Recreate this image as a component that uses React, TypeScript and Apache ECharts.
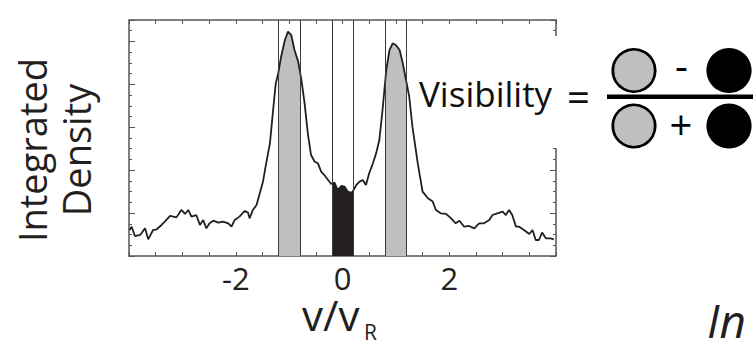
import React, { useEffect, useRef } from "react";
import * as echarts from "echarts";

// ---- data ----
const curveX = [-3.99,-3.95,-3.89,-3.79,-3.70,-3.64,-3.55,-3.48,-3.39,-3.33,-3.23,-3.11,-3.02,-2.95,-2.89,-2.83,-2.74,-2.67,-2.61,-2.55,-2.49,-2.42,-2.33,-2.24,-2.14,-2.08,-2.02,-1.93,-1.83,-1.77,-1.74,-1.68,-1.61,-1.55,-1.49,-1.43,-1.36,-1.30,-1.25,-1.21,-1.15,-1.08,-1.02,-0.96,-0.90,-0.83,-0.77,-0.71,-0.65,-0.59,-0.52,-0.46,-0.40,-0.34,-0.27,-0.21,-0.15,-0.09,-0.02,0.04,0.10,0.16,0.19,0.26,0.32,0.38,0.44,0.50,0.57,0.63,0.69,0.75,0.82,0.88,0.94,1.00,1.07,1.13,1.19,1.25,1.31,1.41,1.50,1.60,1.69,1.75,1.84,1.94,2.00,2.06,2.12,2.19,2.28,2.37,2.47,2.56,2.65,2.75,2.81,2.90,3.00,3.06,3.12,3.18,3.25,3.31,3.40,3.50,3.56,3.62,3.68,3.74,3.81,3.90,3.96];
const curveY = [2.42,2.73,1.86,1.96,2.58,1.55,2.42,2.49,2.89,3.20,3.73,3.60,4.29,3.92,4.29,3.67,3.82,2.89,3.36,2.58,3.05,3.29,3.11,3.20,3.05,2.73,3.36,3.67,4.20,4.04,3.51,4.29,4.75,5.84,6.93,8.64,10.50,13.61,16.10,16.87,18.58,20.14,20.91,20.60,19.20,18.12,16.41,14.23,11.44,9.42,8.79,8.64,7.86,7.55,7.08,6.71,6.84,6.15,6.53,6.46,6.00,5.90,6.00,6.62,6.93,7.08,6.62,7.71,8.64,9.57,10.81,13.61,17.34,19.20,19.83,19.67,19.20,17.96,16.41,14.85,12.06,8.64,6.00,5.38,5.07,4.29,3.98,3.92,3.67,3.36,3.05,3.29,2.73,2.80,2.58,3.05,3.05,3.36,3.82,3.98,4.13,3.82,4.29,3.82,2.73,2.73,2.42,2.05,2.42,1.49,1.49,2.18,1.65,1.65,1.55];

// band edges (v/vR)
const bandEdges = [-1.2, -0.8, -0.2, 0.2, 0.8, 1.2];
const greyBands = [[-1.2, -0.8], [0.8, 1.2]];
const blackBand = [-0.2, 0.2];
const xTickLabels = [-2, 0, 2];

const GREY = "#c0bebe";
const INK = "#231f20";
const FRAME = "#555555";
const FONT = "Open Sans";

export default function App() {
  const ref = useRef<HTMLDivElement>(null);
  useEffect(() => {
    if (!ref.current) return;
    const chart = echarts.init(ref.current, null, { renderer: "svg" });
    const pairs = curveX.map((x, i) => [x, curveY[i]]);
    const frameLine = { show: true, onZero: false, lineStyle: { color: FRAME, width: 1.5 } };
    const xCommon = {
      type: "value",
      min: -4,
      max: 4,
      interval: 0.5,
      splitLine: { show: false },
      axisLine: frameLine,
      axisTick: { show: true, inside: true, length: 4, lineStyle: { color: FRAME, width: 1 } },
    };
    const yShort = {
      type: "value",
      min: 0,
      max: 22,
      interval: 1,
      splitLine: { show: false },
      axisLine: frameLine,
      axisLabel: { show: false },
      axisTick: { show: true, inside: true, length: 3, lineStyle: { color: FRAME, width: 1 } },
    };
    const yLong = {
      type: "value",
      min: -1,
      max: 21,
      interval: 4,
      splitLine: { show: false },
      axisLine: { show: false, onZero: false },
      axisLabel: { show: false },
      axisTick: { show: true, inside: true, length: 6, lineStyle: { color: FRAME, width: 1 } },
    };
    const option: any = {
      animation: false,
      textStyle: { fontFamily: FONT },
      grid: { left: 129, right: 197, top: 20, bottom: 94, containLabel: false },
      xAxis: [
        {
          ...xCommon,
          position: "bottom",
          axisLabel: {
            show: true,
            fontSize: 31,
            color: INK,
            fontFamily: FONT,
            margin: 6,
            formatter: (v: number) => (xTickLabels.indexOf(v) >= 0 ? String(v) : ""),
          },
        },
        { ...xCommon, position: "top", axisLabel: { show: false } },
      ],
      yAxis: [
        { ...yShort, position: "left" },
        { ...yLong, position: "left" },
        { ...yShort, position: "right" },
        { ...yLong, position: "right" },
      ],
      visualMap: {
        type: "piecewise",
        show: false,
        dimension: 0,
        seriesIndex: 0,
        pieces: [
          { gte: greyBands[0][0], lte: greyBands[0][1], color: GREY },
          { gte: blackBand[0], lte: blackBand[1], color: INK },
          { gte: greyBands[1][0], lte: greyBands[1][1], color: GREY },
        ],
        outOfRange: { color: "rgba(255,255,255,0)" },
      },
      series: [
        {
          type: "line",
          data: pairs,
          xAxisIndex: 0,
          yAxisIndex: 0,
          showSymbol: false,
          silent: true,
          z: 1,
          lineStyle: { width: 0, opacity: 0 },
          areaStyle: { opacity: 1, origin: "start" },
        },
        {
          type: "line",
          data: pairs,
          xAxisIndex: 0,
          yAxisIndex: 0,
          showSymbol: false,
          silent: true,
          z: 3,
          lineStyle: { color: INK, width: 1.8 },
          itemStyle: { color: INK },
          markLine: {
            silent: true,
            symbol: "none",
            label: { show: false },
            lineStyle: { color: "#3c3c3c", width: 1, type: "solid" },
            data: bandEdges.map((v) => ({ xAxis: v })),
          },
        },
      ],
      graphic: [
        { type: "rect", z: 100, shape: { x: 440, y: 36, width: 313, height: 112 }, style: { fill: "#ffffff" } },
        {
          type: "text", z: 101, x: 419, y: 93,
          style: { text: "Visibility", fontFamily: FONT, fontSize: 35, fill: "#111", textAlign: "left", textVerticalAlign: "middle" },
        },
        {
          type: "text", z: 101, x: 578.5, y: 96,
          style: { text: "=", fontFamily: FONT, fontSize: 40, fill: "#111", textAlign: "center", textVerticalAlign: "middle" },
        },
        { type: "rect", z: 101, shape: { x: 607, y: 94.5, width: 146, height: 4.5 }, style: { fill: "#000" } },
        { type: "circle", z: 101, shape: { cx: 634, cy: 70.5, r: 21.2 }, style: { fill: "#bfbfbf", stroke: "#000", lineWidth: 2.8 } },
        { type: "circle", z: 101, shape: { cx: 729, cy: 70.5, r: 22.6 }, style: { fill: "#000" } },
        { type: "circle", z: 101, shape: { cx: 634, cy: 126, r: 21.2 }, style: { fill: "#bfbfbf", stroke: "#000", lineWidth: 2.8 } },
        { type: "circle", z: 101, shape: { cx: 729, cy: 126, r: 22.6 }, style: { fill: "#000" } },
        {
          type: "text", z: 101, x: 681.5, y: 64,
          style: { text: "-", fontFamily: FONT, fontSize: 40, fill: "#000", textAlign: "center", textVerticalAlign: "middle" },
        },
        {
          type: "text", z: 101, x: 681, y: 124,
          style: { text: "+", fontFamily: FONT, fontSize: 40, fill: "#000", textAlign: "center", textVerticalAlign: "middle" },
        },
        {
          type: "text", z: 101, x: 54, y: 150, rotation: Math.PI / 2,
          style: { text: "Integrated\nDensity", fontFamily: FONT, fontSize: 38, lineHeight: 44, fill: INK, textAlign: "center", textVerticalAlign: "middle" },
        },
        {
          type: "text", z: 101, x: 302, y: 314.5,
          style: { text: "v/v", fontFamily: FONT, fontSize: 42, fill: INK, textAlign: "left", textVerticalAlign: "middle" },
        },
        {
          type: "text", z: 101, x: 364, y: 332,
          style: { text: "R", fontFamily: FONT, fontSize: 21, fill: INK, textAlign: "left", textVerticalAlign: "middle" },
        },
        {
          type: "text", z: 101, x: 707, y: 320,
          style: { text: "In", fontFamily: FONT, fontSize: 46, fontStyle: "italic", fill: INK, textAlign: "left", textVerticalAlign: "middle" },
        },
      ],
    };
    chart.setOption(option);
    return () => chart.dispose();
  }, []);
  return (
    <div
      ref={ref}
      style={{ position: "absolute", left: 0, top: 0, width: 753, height: 350, background: "#fff" }}
    />
  );
}
